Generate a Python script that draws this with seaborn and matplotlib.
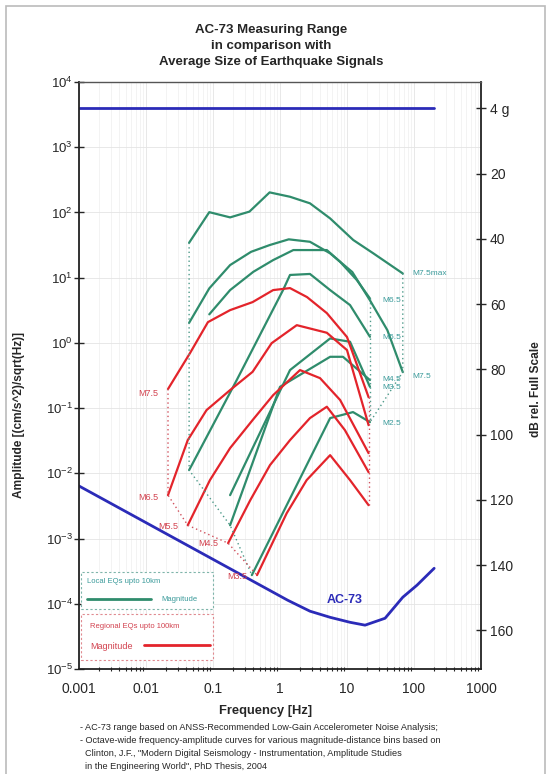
import matplotlib
matplotlib.use('Agg')
import numpy as np
import matplotlib.pyplot as plt
import seaborn as sns
from matplotlib.lines import Line2D
from matplotlib.patches import Rectangle
from matplotlib.ticker import FixedLocator, FuncFormatter, LogLocator, NullLocator, LogFormatterSciNotation

# full scale of the AC-73 = 4 g in cm/s^2
full_scale = 3924.0

# AC-73 range (upper clip level and noise floor)
top_freq = [0.001, 200]
top_amp = [full_scale, full_scale]
noise_freq = [0.001, 1.31, 2.8, 5.6, 11.1, 18.6, 37, 68, 111, 200]
noise_amp = [6.4e-3, 1.13e-4, 7.7e-5, 6.2e-5, 5.2e-5, 4.7e-5, 6.0e-5, 1.26e-4, 1.93e-4, 3.5e-4]

# local earthquakes, up to 10 km
loc_m75max_f = [0.044, 0.088, 0.18, 0.35, 0.70, 1.41, 2.8, 5.6, 12.4, 24.7, 68]
loc_m75max_a = [34.3, 101, 84, 103, 203, 174, 138, 81, 37.8, 23.6, 11.6]
loc_m75_f = [0.044, 0.088, 0.18, 0.37, 0.70, 1.35, 2.8, 5.6, 12, 22, 40, 68]
loc_m75_a = [2.03, 6.85, 15.6, 24.9, 31.6, 38.7, 35.5, 23.6, 12.2, 4.5, 1.57, 0.356]
loc_m65_f = [0.088, 0.18, 0.40, 0.79, 1.58, 5.0, 7.9, 14, 22]
loc_m65_a = [2.74, 6.45, 12.3, 18.6, 26.5, 26.5, 17.5, 9.2, 4.8]
loc_m55_f = [0.044, 0.226, 1.11, 1.41, 2.8, 5.6, 11.1, 22]
loc_m55_a = [0.0112, 0.269, 6.45, 11.0, 11.4, 6.45, 3.8, 1.24]
loc_m45_f = [0.18, 1.41, 5.6, 11.1, 22]
loc_m45_a = [0.00463, 0.383, 1.17, 1.04, 0.212]
loc_m35_f = [0.18, 1.0, 5.6, 8.7, 22]
loc_m35_a = [0.0016, 0.212, 0.612, 0.612, 0.269]
loc_m25_f = [0.38, 5.6, 12.3, 22]
loc_m25_a = [2.75e-4, 0.0703, 0.0869, 0.061]

# regional earthquakes, up to 100 km
reg_m75_f = [0.0213, 0.0454, 0.084, 0.18, 0.39, 0.79, 1.41, 2.53, 5.0, 10, 21]
reg_m75_a = [0.196, 0.698, 2.08, 3.18, 4.22, 6.45, 6.92, 5.04, 2.86, 1.23, 0.147]
reg_m65_f = [0.0213, 0.042, 0.080, 0.18, 0.39, 0.75, 1.78, 5.0, 10, 21]
reg_m65_a = [0.00463, 0.0323, 0.0931, 0.189, 0.360, 0.99, 1.87, 1.43, 0.776, 0.0548]
reg_m55_f = [0.042, 0.09, 0.18, 0.39, 0.79, 1.99, 3.96, 7.9, 21]
reg_m55_a = [0.0016, 0.00787, 0.0244, 0.0655, 0.158, 0.383, 0.288, 0.133, 0.0204]
reg_m45_f = [0.168, 0.36, 0.71, 1.41, 2.8, 5.0, 9.3, 21]
reg_m45_a = [8.5e-4, 0.00388, 0.0134, 0.0323, 0.0703, 0.105, 0.046, 0.0104]
reg_m35_f = [0.454, 1.26, 2.5, 5.6, 11.1, 21]
reg_m35_a = [2.75e-4, 0.00245, 0.00787, 0.019, 0.00787, 0.00325]

x_ticks = [0.001, 0.01, 0.1, 1, 10, 100, 1000]
db_ticks = [0, 20, 40, 60, 80, 100, 120, 140, 160]
db_labels = ['4 g', '20', '40', '60', '80', '100', '120', '140', '160']

green = '#2f8c6c'
red = '#e3242b'
blue = '#2b2bb8'
teal_txt = '#3a9a9a'
red_txt = '#d2424f'

sns.set_style('white')
plt.rcParams['font.family'] = ['Liberation Sans', 'DejaVu Sans']

fig = plt.figure(figsize=(5.5, 7.74), dpi=100)
ax = fig.add_axes([79 / 550, 1 - 669 / 774, 402 / 550, 587 / 774])
ax.set_xscale('log')
ax.set_yscale('log')

# grid
ax.grid(True, which='major', axis='both', color='#e4e4e4', lw=0.6)
ax.grid(True, which='minor', axis='x', color='#eeeeee', lw=0.5)

# AC-73 range
sns.lineplot(x=top_freq, y=top_amp, ax=ax, color=blue, lw=2, legend=False)
sns.lineplot(x=noise_freq, y=noise_amp, ax=ax, color=blue, lw=2, legend=False)

green_curves = [(loc_m75max_f, loc_m75max_a), (loc_m75_f, loc_m75_a), (loc_m65_f, loc_m65_a),
                (loc_m55_f, loc_m55_a), (loc_m45_f, loc_m45_a), (loc_m35_f, loc_m35_a),
                (loc_m25_f, loc_m25_a)]
red_curves = [(reg_m75_f, reg_m75_a), (reg_m65_f, reg_m65_a), (reg_m55_f, reg_m55_a),
              (reg_m45_f, reg_m45_a), (reg_m35_f, reg_m35_a)]

for f, a in green_curves:
    sns.lineplot(x=f, y=a, ax=ax, color=green, lw=1.6, legend=False, sort=False, estimator=None)
for f, a in red_curves:
    sns.lineplot(x=f, y=a, ax=ax, color=red, lw=1.6, legend=False, sort=False, estimator=None)


# dotted lines joining the curve ends
def dotted(curves, which, color):
    fs = [c[0][which] for c in curves]
    as_ = [c[1][which] for c in curves]
    ax.plot(fs, as_, color=color, lw=1.0, linestyle=(0, (1, 2.2)))


dotted([green_curves[i] for i in (0, 1, 3, 5, 6)], 0, '#4d9a8a')
dotted([green_curves[i] for i in (0, 1, 6)], -1, '#4d9a8a')
dotted([green_curves[i] for i in (2, 6)], -1, '#4d9a8a')
dotted(red_curves, 0, '#d0505c')
dotted([red_curves[0], red_curves[4]], -1, '#d0505c')

# magnitude labels
green_lbl = [('M7.5max', 0, (7.2, 0)), ('M7.5', 1, (7.2, -2.9)), ('M6.5', 2, (8.6, -1.4)),
             ('M5.5', 3, (8.6, -0.7)), ('M4.5', 4, (8.6, 5.5)), ('M3.5', 5, (8.6, -5.0)),
             ('M2.5', 6, (8.6, -0.7))]
for txt, i, off in green_lbl:
    f, a = green_curves[i]
    ax.annotate(txt, xy=(f[-1], a[-1]), xytext=off, textcoords='offset points',
                ha='left', va='center', fontsize=6, color=teal_txt)

red_lbl = [('M7.5', 0, (-7.2, -2.9)), ('M6.5', 1, (-7.2, -1.4)), ('M5.5', 2, (-7.2, -0.7)),
           ('M4.5', 3, (-7.2, 0)), ('M3.5', 4, (-7.2, -0.7))]
for txt, i, off in red_lbl:
    f, a = red_curves[i]
    ax.annotate(txt, xy=(f[0], a[0]), xytext=off, textcoords='offset points',
                ha='right', va='center', fontsize=6.5, color=red_txt)

ax.text(0.662, 0.1175, 'AC-73', transform=ax.transAxes, ha='center', va='center',
        fontsize=9, fontweight='bold', color=blue)

ax.set_xlim(1e-3, 1e3)
ax.set_ylim(1e-5, 1e4)
ax.xaxis.set_major_locator(FixedLocator(x_ticks))
ax.xaxis.set_major_formatter(FuncFormatter(lambda v, _: f'{v:g}'))
ax.xaxis.set_minor_locator(LogLocator(base=10, subs=np.arange(2, 10), numticks=20))
ax.yaxis.set_major_locator(LogLocator(base=10, numticks=20))
ax.yaxis.set_major_formatter(LogFormatterSciNotation())
ax.yaxis.set_minor_locator(NullLocator())
ax.tick_params(axis='x', which='major', direction='inout', length=7, width=1, labelsize=10, pad=6)
ax.tick_params(axis='x', which='minor', direction='inout', length=3.5, width=0.8, bottom=True)
ax.tick_params(axis='y', which='major', direction='inout', length=7, width=1, labelsize=9.5, pad=1)
for side in ['left', 'bottom', 'right']:
    ax.spines[side].set_color('#222222')
    ax.spines[side].set_linewidth(1.3)
ax.spines['top'].set_color('#555555')
ax.spines['top'].set_linewidth(1)

ax.set_xlabel('Frequency [Hz]', fontsize=9.3, fontweight='bold')
ax.xaxis.set_label_coords(0.463, -0.061)
ax.set_ylabel('Amplitude [(cm/s^2)/sqrt(Hz)]', fontsize=8.6, fontweight='bold')
ax.yaxis.set_label_coords(-0.134, 0.433)

# right axis in dB relative to full scale
ax2 = ax.twinx()
ax2.set_ylim(20 * np.log10(full_scale / 1e-5), 20 * np.log10(full_scale / 1e4))
ax2.yaxis.set_major_locator(FixedLocator(db_ticks))
ax2.set_yticklabels(db_labels)
ax2.tick_params(axis='y', direction='inout', length=7, width=1, labelsize=10, pad=3)
ax2.set_ylabel('dB rel. Full Scale', fontsize=8.6, fontweight='bold')
ax2.yaxis.set_label_coords(1.122, 0.477)
ax2.grid(False)
for s in ax2.spines.values():
    s.set_visible(False)

# legend boxes
leg1 = ax.legend(handles=[Line2D([], [], color=green, lw=2)], labels=['Magnitude'],
                 title='Local EQs upto 10km', title_fontsize=5.5, fontsize=5.5,
                 loc='upper left', bbox_to_anchor=(0.005, 0.0, 0.328, 0.165), mode='expand',
                 borderaxespad=0, handlelength=8.4, handletextpad=1.3, borderpad=0.8,
                 labelspacing=1.4, alignment='left', labelcolor=teal_txt, fancybox=False,
                 framealpha=1)
leg1.get_title().set_color(teal_txt)
leg1.get_frame().set_linestyle((0, (2, 2)))
leg1.get_frame().set_edgecolor('#7fb5aa')
leg1.get_frame().set_linewidth(0.8)
ax.add_artist(leg1)

leg2 = ax.legend(handles=[Line2D([], [], color=red, lw=2)], labels=['Magnitude'],
                 title='Regional EQs upto 100km', title_fontsize=5.5, fontsize=6.5,
                 loc='upper left', bbox_to_anchor=(0.005, 0.0, 0.328, 0.094), mode='expand',
                 borderaxespad=0, handlelength=7.3, handletextpad=1.3, borderpad=1.0,
                 labelspacing=1.3, markerfirst=False, alignment='left', labelcolor=red_txt,
                 fancybox=False, framealpha=1)
leg2.get_title().set_color(red_txt)
leg2.get_frame().set_linestyle((0, (2, 2)))
leg2.get_frame().set_edgecolor('#e08a90')
leg2.get_frame().set_linewidth(0.8)

fig.text(271 / 550, 1 - 46 / 774,
         'AC-73 Measuring Range\nin comparison with\nAverage Size of Earthquake Signals',
         ha='center', va='center', fontsize=9.5, fontweight='bold', linespacing=1.5)

notes = ['- AC-73 range based on ANSS-Recommended Low-Gain Accelerometer Noise Analysis;',
         '- Octave-wide frequency-amplitude curves for various magnitude-distance bins based on',
         '  Clinton, J.F., "Modern Digital Seismology - Instrumentation, Amplitude Studies',
         '  in the Engineering World", PhD Thesis, 2004']
for i, line in enumerate(notes):
    fig.text(80 / 550, 1 - (727 + 13.3 * i) / 774, line, ha='left', va='center', fontsize=6.6)

fig.patches.append(Rectangle((6 / 550, -0.05), 539 / 550, 1.05 - 6 / 774, transform=fig.transFigure,
                             fill=False, edgecolor='#bbbbbb', lw=1.2))

fig.savefig('out.png', dpi=100)
